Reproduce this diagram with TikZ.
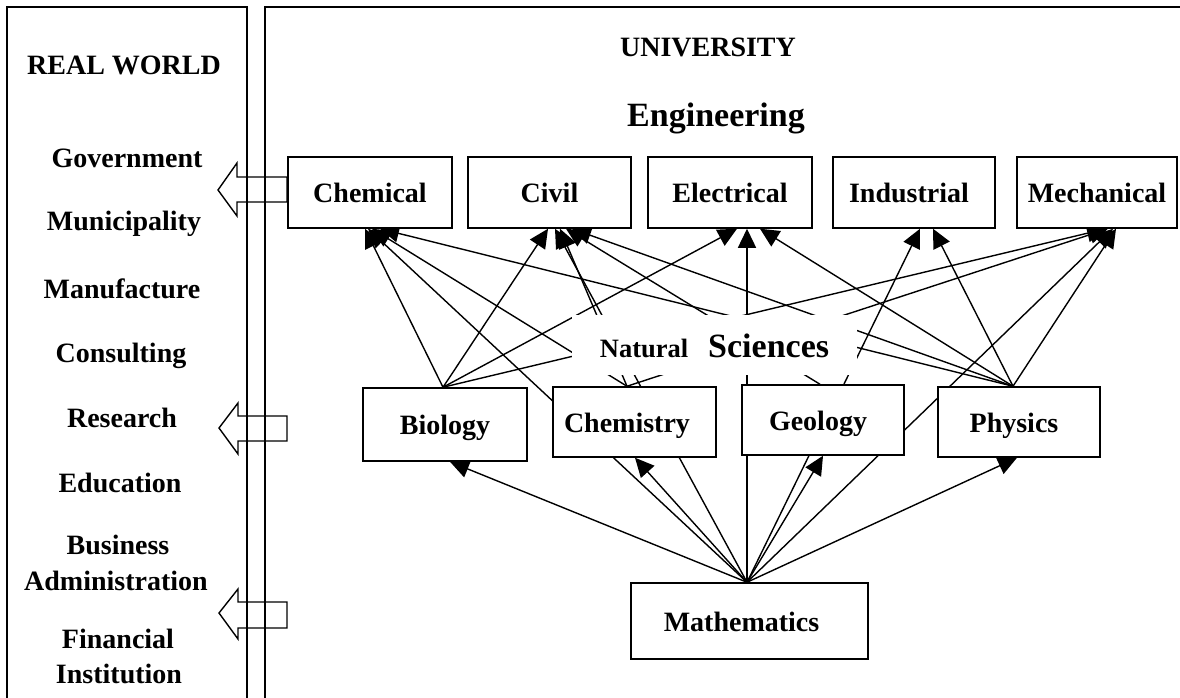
\documentclass[tikz,border=0pt]{standalone}
\usepackage{fontspec}
\setmainfont{Liberation Serif}
\usetikzlibrary{arrows.meta,backgrounds}
\begin{document}
\begin{tikzpicture}[x=1pt,y=-1pt,
  txt/.style={font=\fontsize{28}{30}\selectfont\bfseries, inner sep=0pt, anchor=base},
  box/.style={draw, line width=1.5pt, fill=white, inner sep=0pt,
    font=\fontsize{28}{30}\selectfont\bfseries, text height=20pt, text depth=0pt},
  conn/.style={line width=1.4pt, -{Triangle[length=19pt,width=18pt]}},
  blockarrow/.style={line width=1.4pt, line join=miter},
  panel/.style={line width=1.4pt}
]
\useasboundingbox (0,0) rectangle (1180,698);

% panels
\draw[panel] (7,720) -- (7,7) -- (247,7) -- (247,720);
\draw[panel] (265,720) -- (265,7) -- (1200,7);

% left panel texts
\node[txt] (rw) at (124,75) {REAL WORLD};
\node[txt] (gov) at (127,167) {Government};
\node[txt] (mun) at (124,230) {Municipality};
\node[txt] (man) at (122,298) {Manufacture};
\node[txt] (con) at (121,362) {Consulting};
\node[txt] (res) at (122,427) {Research};
\node[txt] (edu) at (120,492) {Education};
\node[txt] (bus) at (118,554) {Business};
\node[txt] (adm) at (116,590) {Administration};
\node[txt] (fin) at (118,648) {Financial};
\node[txt] (ins) at (119,683) {Institution};

% block arrows
\draw[blockarrow] (218,190) -- (237,163) -- (237,177) -- (287,177) -- (287,202) -- (237,202) -- (237,216) -- cycle;
\draw[blockarrow] (219,428) -- (238,403) -- (238,416) -- (287,416) -- (287,441) -- (238,441) -- (238,454) -- cycle;
\draw[blockarrow] (219,613) -- (238,589) -- (238,602) -- (287,602) -- (287,628) -- (238,628) -- (238,639) -- cycle;

% titles
\node[txt] (univ) at (708,57) {UNIVERSITY};
\node[txt, font=\fontsize{34}{36}\selectfont\bfseries] (eng) at (716,127) {Engineering};

% engineering boxes
\node[box, minimum width=164pt, minimum height=71pt] (chemical) at (370,192.5) {Chemical};
\node[box, minimum width=163pt, minimum height=71pt] (civil) at (549.5,192.5) {Civil};
\node[box, minimum width=164pt, minimum height=71pt] (electrical) at (730,192.5) {Electrical};
\node[box, minimum width=162pt, minimum height=71pt] (industrial) at (914,192.5) {Industrial\hspace*{10pt}};
\node[box, minimum width=160pt, minimum height=71pt] (mechanical) at (1097,192.5) {Mechanical};

% science boxes
\node[box, minimum width=164pt, minimum height=73pt] (bio) at (445,424.5) {Biology};
\node[box, minimum width=163pt, minimum height=70pt] (chem) at (634.5,422) {Chemistry\hspace*{15pt}};
\node[box, minimum width=162pt, minimum height=70pt] (geo) at (823,420) {Geology\hspace*{10pt}};
\node[box, minimum width=162pt, minimum height=70pt] (phys) at (1019,422) {Physics\hspace*{10pt}};
\node[box, minimum width=237pt, minimum height=76pt] (math) at (749.5,621) {Mathematics\hspace*{16pt}};

% natural sciences label
\node[fill=white, inner sep=0pt, minimum width=285pt, minimum height=60pt,
  text height=25pt, text depth=0pt, font=\bfseries] (ns) at (714.5,345)
  {{\fontsize{26.5}{28}\selectfont Natural}\hspace{20pt}{\fontsize{34}{36}\selectfont Sciences}};

\begin{scope}[on background layer]
\fill[white] (0,0) rectangle (1180,698);
\coordinate (mt) at ([xshift=-2.5pt]math.north);
\coordinate (bt) at ([xshift=-2pt]bio.north);
\coordinate (ct) at ([xshift=-7.5pt]chem.north);
\coordinate (gt) at ([xshift=-3pt]geo.north);
\coordinate (pht) at ([xshift=-6pt]phys.north);
% mathematics
\draw[conn] (mt) -- ([xshift=5pt]bio.south);
\draw[conn] (mt) -- ([xshift=0.5pt]chem.south);
\draw[conn] (mt) -- (geo.south);
\draw[conn] (mt) -- ([xshift=-2pt]phys.south);
\draw[conn] (mt) -- ([xshift=-2pt]chemical.south);
\draw[conn] (mt) -- ([xshift=5.5pt]civil.south);
\draw[conn] (mt) -- ([xshift=17pt]electrical.south);
\draw[conn] (mt) -- ([xshift=6pt]industrial.south);
\draw[conn] (mt) -- ([xshift=16pt]mechanical.south);
% biology
\draw[conn] (bt) -- ([xshift=-5pt]chemical.south);
\draw[conn] (bt) -- ([xshift=-1.5pt]civil.south);
\draw[conn] (bt) -- ([xshift=7pt]electrical.south);
\draw[conn] (bt) -- ([xshift=9pt]mechanical.south);
% chemistry
\draw[conn] (ct) -- ([xshift=2pt]chemical.south);
\draw[conn] (ct) -- ([xshift=10.5pt]civil.south);
\draw[conn] (ct) -- ([xshift=11pt]mechanical.south);
% geology
\draw[conn] (gt) -- ([xshift=16.5pt]civil.south);
% physics
\draw[conn] (pht) -- ([xshift=10pt]chemical.south);
\draw[conn] (pht) -- ([xshift=22.5pt]civil.south);
\draw[conn] (pht) -- ([xshift=30pt]electrical.south);
\draw[conn] (pht) -- ([xshift=19pt]industrial.south);
\draw[conn] (pht) -- ([xshift=19pt]mechanical.south);
\end{scope}
\end{tikzpicture}
\end{document}
